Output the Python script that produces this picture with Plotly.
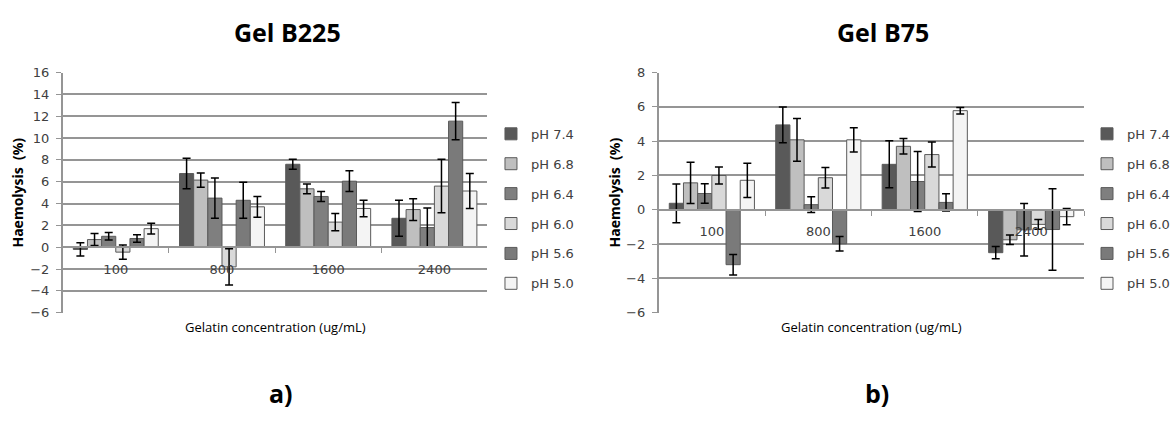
import plotly.graph_objects as go

# ---------------- data ----------------
categories = ["100", "800", "1600", "2400"]
ph_labels = ["pH 7.4", "pH 6.8", "pH 6.4", "pH 6.0", "pH 5.6", "pH 5.0"]
bar_colors = ["#595959", "#bfbfbf", "#7f7f7f", "#d9d9d9", "#7a7a7a", "#f4f4f4"]

# Gel B225 (panel a)
b225_ph74 = [-0.2, 6.75, 7.6, 2.65]
b225_ph68 = [0.7, 6.15, 5.35, 3.45]
b225_ph64 = [1.0, 4.5, 4.65, 1.8]
b225_ph60 = [-0.45, -1.8, 2.3, 5.6]
b225_ph56 = [0.8, 4.3, 6.05, 11.55]
b225_ph50 = [1.7, 3.7, 3.55, 5.15]
b225_err74 = [0.6, 1.4, 0.45, 1.65]
b225_err68 = [0.55, 0.65, 0.45, 1.0]
b225_err64 = [0.35, 1.85, 0.45, 1.8]
b225_err60 = [0.65, 1.65, 0.8, 2.45]
b225_err56 = [0.35, 1.65, 0.95, 1.7]
b225_err50 = [0.5, 0.95, 0.75, 1.6]

# Gel B75 (panel b)
b75_ph74 = [0.38, 4.95, 2.65, -2.5]
b75_ph68 = [1.57, 4.08, 3.7, -1.75]
b75_ph64 = [0.95, 0.3, 1.65, -1.17]
b75_ph60 = [2.0, 1.87, 3.22, -0.85]
b75_ph56 = [-3.2, -1.98, 0.43, -1.15]
b75_ph50 = [1.72, 4.08, 5.78, -0.4]
b75_err74 = [1.13, 1.04, 1.37, 0.36]
b75_err68 = [1.2, 1.25, 0.45, 0.28]
b75_err64 = [0.57, 0.46, 1.75, 1.53]
b75_err60 = [0.5, 0.6, 0.73, 0.28]
b75_err56 = [0.6, 0.42, 0.5, 2.38]
b75_err50 = [1.0, 0.71, 0.19, 0.47]

b225_values = [b225_ph74, b225_ph68, b225_ph64, b225_ph60, b225_ph56, b225_ph50]
b225_errors = [b225_err74, b225_err68, b225_err64, b225_err60, b225_err56, b225_err50]
b75_values = [b75_ph74, b75_ph68, b75_ph64, b75_ph60, b75_ph56, b75_ph50]
b75_errors = [b75_err74, b75_err68, b75_err64, b75_err60, b75_err56, b75_err50]

# ---------------- layout constants ----------------
W, H = 1175, 421
Y_DOM = [1 - 317 / H, 1 - 68 / H]
X_DOM1 = [63 / W, 490 / W]
X_DOM2 = [662 / W, 1090 / W]
RANGE1 = [-6, 16]
RANGE2 = [-6, 8]

GRID = "#959595"
TICKC = "#404040"
FONT = "DejaVu Sans"

fig = go.Figure()


def add_panel(values, errors, xa, ya, legend):
    for name, vals, errs, col in zip(ph_labels, values, errors, bar_colors):
        fig.add_trace(go.Bar(
            x=categories, y=vals, name=name,
            marker=dict(color=col, line=dict(color="#5a5a5a", width=1)),
            error_y=dict(type="data", array=errs, visible=True,
                         color="#000000", thickness=1.5, width=4),
            xaxis=xa, yaxis=ya, legend=legend, legendgroup=legend + name,
        ))


add_panel(b225_values, b225_errors, "x", "y", "legend")
add_panel(b75_values, b75_errors, "x2", "y2", "legend2")


def zero_pos(rng):
    frac = (0 - rng[0]) / (rng[1] - rng[0])
    return Y_DOM[0] + frac * (Y_DOM[1] - Y_DOM[0])


xcommon = dict(type="category", showgrid=False, showline=True, linecolor=GRID,
               linewidth=1.5, ticks="outside", tickson="boundaries", ticklen=5,
               tickcolor=GRID, tickfont=dict(family=FONT, size=13, color=TICKC),
               ticklabelstandoff=10, anchor="free", zeroline=False)
ycommon = dict(showgrid=True, gridcolor=GRID, gridwidth=1.5, showline=True,
               linecolor=GRID, linewidth=1.5, ticks="outside", ticklen=5,
               tickcolor=GRID, dtick=2, zeroline=False,
               tickfont=dict(family=FONT, size=13, color=TICKC),
               ticklabelstandoff=4)

legcommon = dict(font=dict(family=FONT, size=13, color=TICKC),
                 tracegroupgap=10, bgcolor="rgba(0,0,0,0)", borderwidth=0,
                 xanchor="left", yanchor="top", orientation="v")

fig.update_layout(
    width=W, height=H, margin=dict(l=0, r=0, t=0, b=0),
    paper_bgcolor="white", plot_bgcolor="white",
    barmode="group", bargap=0.2, bargroupgap=0,
    xaxis=dict(domain=X_DOM1, position=zero_pos(RANGE1), **xcommon),
    yaxis=dict(domain=Y_DOM, range=RANGE1, anchor="x", **ycommon),
    xaxis2=dict(domain=X_DOM2, position=zero_pos(RANGE2), **xcommon),
    yaxis2=dict(domain=Y_DOM, range=RANGE2, anchor="x2", **ycommon),
    legend=dict(x=0.42, y=1 - 116 / H, **legcommon),
    legend2=dict(x=0.93, y=1 - 116 / H, **legcommon),
    showlegend=True,
)

ann = []
for cx, title, lab in [((X_DOM1[0] + X_DOM1[1]) / 2, "Gel B225", "a)"),
                       ((X_DOM2[0] + X_DOM2[1]) / 2, "Gel B75", "b)")]:
    ann.append(dict(x=cx + 12 / W, y=1 - 26 / H, text="<b>" + title + "</b>",
                    font=dict(family="Open Sans", size=25, color="#000")))
    ann.append(dict(x=cx, y=1 - 332 / H, text="Gelatin concentration (ug/mL)",
                    font=dict(family="Open Sans", size=13, color="#000")))
    ann.append(dict(x=cx + 6 / W, y=1 - 400 / H, text="<b>" + lab + "</b>",
                    font=dict(family="Open Sans", size=25, color="#000")))
for xp in [18 / W, 618 / W]:
    ann.append(dict(x=xp, y=(Y_DOM[0] + Y_DOM[1]) / 2,
                    text="<b>Haemolysis  (%)</b>", textangle=-90,
                    font=dict(family="Open Sans", size=14, color="#000")))
for a in ann:
    a.update(xref="paper", yref="paper", showarrow=False,
             xanchor="center", yanchor="middle")
fig.update_layout(annotations=ann)

fig.write_html("out.html")
